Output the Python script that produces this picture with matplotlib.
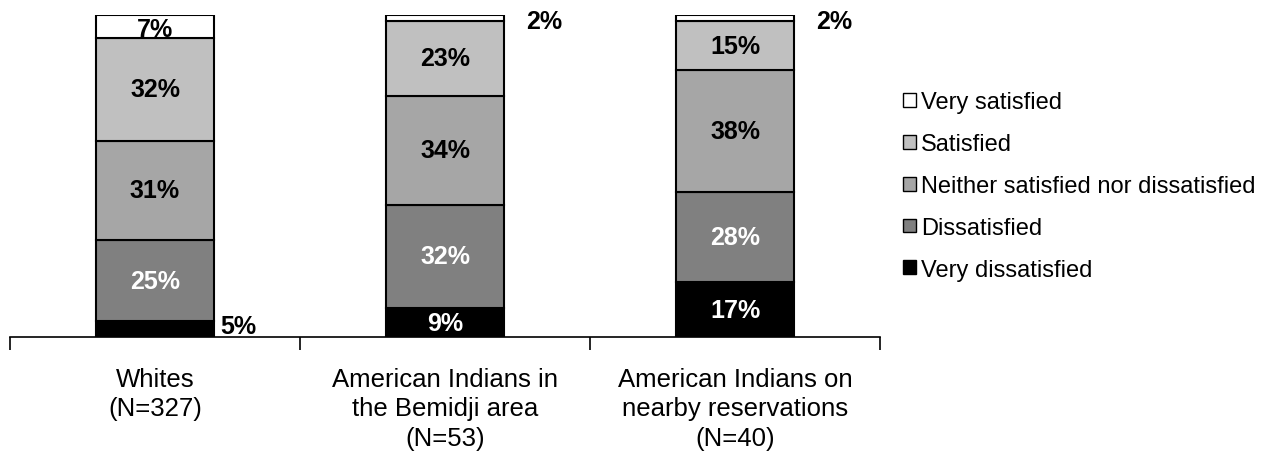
import matplotlib
matplotlib.use("Agg")
import matplotlib.pyplot as plt
from matplotlib.patches import Patch

plt.rcParams['font.family'] = ['Liberation Sans', 'DejaVu Sans']

categories = ["Whites\n(N=327)", "American Indians in\nthe Bemidji area\n(N=53)",
              "American Indians on\nnearby reservations\n(N=40)"]
series_names = ["Very dissatisfied", "Dissatisfied", "Neither satisfied nor dissatisfied",
                "Satisfied", "Very satisfied"]
very_dissatisfied = [5, 9, 17]
dissatisfied = [25, 32, 28]
neither = [31, 34, 38]
satisfied = [32, 23, 15]
very_satisfied = [7, 2, 2]

series = [very_dissatisfied, dissatisfied, neither, satisfied, very_satisfied]
colors = ["#000000", "#808080", "#A6A6A6", "#C0C0C0", "#FFFFFF"]
text_colors = ["white", "white", "black", "black", "black"]

fig = plt.figure(figsize=(12.87, 4.52), dpi=100)
ax = fig.add_axes([10/1287, (452-338)/452, 870/1287, 322/452])

x = list(range(len(categories)))
bottom = [0]*len(categories)
width = 0.407
for si, (vals, col) in enumerate(zip(series, colors)):
    ax.bar(x, vals, width=width, bottom=bottom, color=col, edgecolor="black", linewidth=1.5, zorder=2)
    for i, v in enumerate(vals):
        center = bottom[i] + v/2
        if v <= 5 and si == 0:
            ax.text(i + width/2 + 0.02, bottom[i] + v/2 + 0.8, f"{v}%", ha="left", va="center",
                    fontsize=18, fontweight="bold", color="black", zorder=3)
        elif v <= 3:
            ax.text(i + width/2 + 0.075, 98, f"{v}%", ha="left", va="center",
                    fontsize=18, fontweight="bold", color="black", zorder=3)
        else:
            ax.text(i, center - (1 if si == 4 else 0), f"{v}%", ha="center", va="center",
                    fontsize=18, fontweight="bold", color=text_colors[si], zorder=3)
    bottom = [b + v for b, v in zip(bottom, vals)]

ax.set_xlim(-0.5, 2.5)
ax.set_ylim(0, 100)
for s in ["top", "right", "left"]:
    ax.spines[s].set_visible(False)
ax.spines["bottom"].set_linewidth(1.2)
ax.set_yticks([])
ax.set_xticks([-0.5, 0.5, 1.5, 2.5])
ax.set_xticklabels([])
ax.tick_params(axis="x", direction="out", length=9, width=1.2)

for i, c in enumerate(categories):
    ax.text(i, -0.093, c, transform=ax.get_xaxis_transform(), ha="center", va="top",
            fontsize=18.5, linespacing=1.28)

handles = [Patch(facecolor=colors[k], edgecolor="black", linewidth=1.0) for k in range(4, -1, -1)]
labels = [series_names[k] for k in range(4, -1, -1)]
fig.legend(handles, labels, loc="center left", bbox_to_anchor=(903/1287, (452-187)/452),
           frameon=False, fontsize=17, handlelength=0.55, handleheight=0.52,
           handletextpad=0.2, labelspacing=0.84, borderpad=0, borderaxespad=0)

fig.savefig("out.png", dpi=100)
